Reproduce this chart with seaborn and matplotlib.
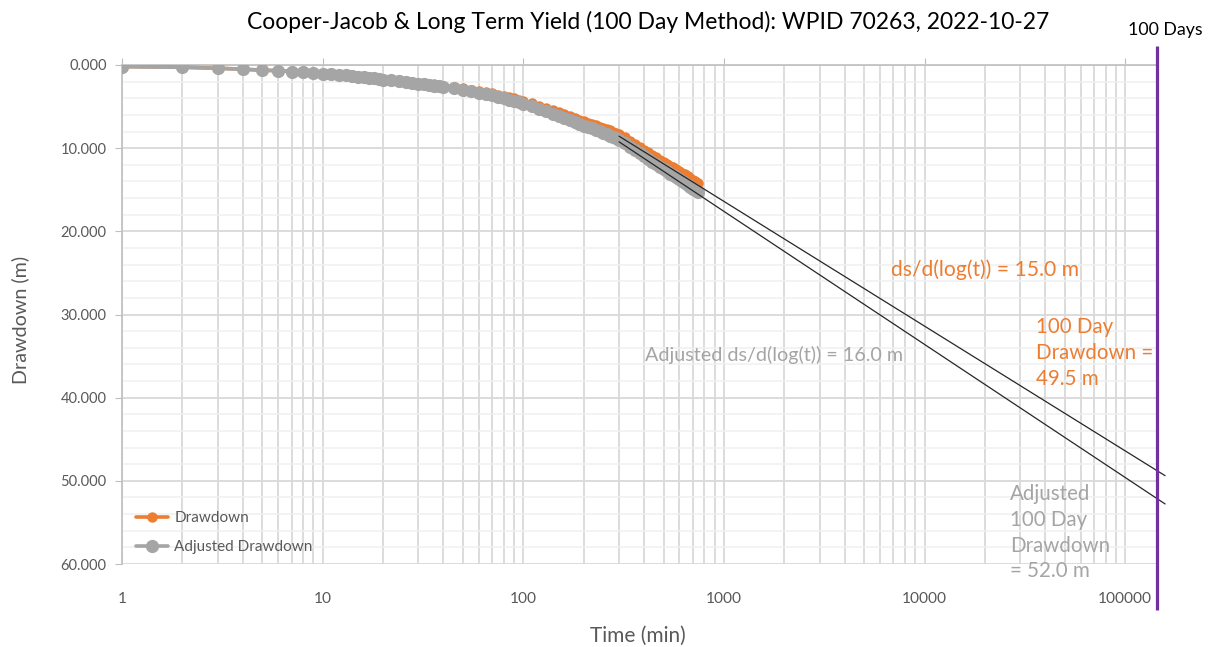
import numpy as np
import pandas as pd
import matplotlib
matplotlib.use("Agg")
import matplotlib.pyplot as plt
import matplotlib.ticker as mticker
import seaborn as sns

# ---------------- data ----------------
time_min = [1, 2, 3, 4, 5, 6, 7, 8, 9, 10, 11, 12, 13, 14, 15, 16, 17, 18, 19, 20,
            22, 24, 26, 28, 30, 32, 34, 36, 38, 40,
            45, 50, 55, 60, 65, 70, 75, 80, 85, 90, 95, 100,
            110, 120, 130, 140, 150, 160, 170, 180, 190, 200, 210, 220, 230, 240,
            250, 260, 270, 280, 290, 300,
            320, 340, 360, 380, 400, 420, 440, 460, 480, 500, 520, 540, 560, 580,
            600, 620, 640, 660, 680, 700, 720, 740]

drawdown = [0.18, 0.26, 0.38, 0.50, 0.61, 0.67, 0.77, 0.87, 0.96, 1.04, 1.10, 1.16, 1.22, 1.28,
            1.35, 1.41, 1.47, 1.54, 1.60, 1.67,
            1.77, 1.86, 1.96, 2.05, 2.13, 2.20, 2.27, 2.34, 2.40, 2.47,
            2.62, 2.77, 2.95, 3.10, 3.25, 3.40, 3.55, 3.71, 3.86, 4.02, 4.18, 4.34,
            4.62, 4.90, 5.18, 5.44, 5.68, 5.92, 6.15, 6.36, 6.57, 6.78, 6.94, 7.10, 7.26, 7.40,
            7.55, 7.70, 7.86, 8.00, 8.14, 8.30,
            8.70, 9.10, 9.50, 9.88, 10.22, 10.52, 10.82, 11.10, 11.38, 11.65, 11.88, 12.10, 12.32,
            12.52, 12.72, 12.93, 13.14, 13.35, 13.56, 13.78, 13.98, 14.18]

adjusted = [0.20, 0.28, 0.40, 0.52, 0.64, 0.70, 0.80, 0.90, 1.00, 1.08, 1.14, 1.20, 1.26, 1.33,
            1.40, 1.47, 1.53, 1.60, 1.67, 1.75,
            1.85, 1.95, 2.06, 2.16, 2.25, 2.33, 2.40, 2.48, 2.55, 2.62,
            2.78, 2.98, 3.15, 3.32, 3.48, 3.65, 3.80, 3.98, 4.15, 4.32, 4.50, 4.68,
            4.98, 5.28, 5.58, 5.85, 6.10, 6.35, 6.60, 6.82, 7.05, 7.28, 7.45, 7.62, 7.80, 7.95,
            8.12, 8.30, 8.48, 8.65, 8.82, 9.00,
            9.40, 9.80, 10.22, 10.62, 11.00, 11.32, 11.65, 11.95, 12.25, 12.55, 12.80, 13.05, 13.28,
            13.50, 13.72, 13.95, 14.18, 14.40, 14.62, 14.85, 15.05, 15.25]

# Cooper-Jacob fits: s = intercept + slope * log10(t)
fit_slope = [15.0, 16.0]
fit_intercept = [-28.6, -30.4]
fit_t = [300, 158000]

hundred_days_min = 144000
purple_span = [-2.3, 65.5]

x_ticks = [1, 10, 100, 1000, 10000, 100000]
x_ticklabels = ["1", "10", "100", "1000", "10000", "100000"]
y_ticks = [0, 10, 20, 30, 40, 50, 60]

title = "Cooper-Jacob & Long Term Yield (100 Day Method): WPID 70263, 2022-10-27"

# ---------------- styling ----------------
ORANGE = "#ED7D31"
GRAY = "#A5A5A5"
TXT = "#595959"
GRID = "#D9D9D9"
PURPLE = "#7030A0"

sns.set_style("white")
plt.rcParams["font.family"] = ["Lato", "DejaVu Sans"]

W, H = 1213, 647
fig = plt.figure(figsize=(W / 100, H / 100), dpi=100)
ax = fig.add_axes([122 / W, 1 - 564 / H, (1157 - 122) / W, (564 - 65) / H])

df1 = pd.DataFrame({"t": time_min, "s": drawdown})
df2 = pd.DataFrame({"t": time_min, "s": adjusted})

sns.lineplot(data=df1, x="t", y="s", ax=ax, color=ORANGE, lw=2.6, marker="o",
             markersize=7.5, markeredgewidth=0, label="Drawdown", zorder=3)
sns.lineplot(data=df2, x="t", y="s", ax=ax, color=GRAY, lw=2.6, marker="o",
             markersize=9.5, markeredgewidth=0, label="Adjusted Drawdown", zorder=4)

for sl, ic in zip(fit_slope, fit_intercept):
    ys = [ic + sl * np.log10(t) for t in fit_t]
    ax.plot(fit_t, ys, color="#262626", lw=0.9, clip_on=False, zorder=5)

ax.plot([hundred_days_min, hundred_days_min], purple_span, color=PURPLE, lw=2.3,
        clip_on=False, zorder=6, solid_capstyle="butt")

ax.set_xscale("log")
ax.set_xlim(1, hundred_days_min)
ax.set_ylim(60, 0)

ax.set_xticks(x_ticks)
ax.set_xticklabels(x_ticklabels)
ax.xaxis.set_minor_locator(mticker.LogLocator(base=10, subs=np.arange(2, 10), numticks=20))
ax.xaxis.set_minor_formatter(mticker.NullFormatter())
ax.set_yticks(y_ticks)
ax.yaxis.set_major_formatter(mticker.FuncFormatter(lambda v, p: f"{v:.3f}"))
ax.yaxis.set_minor_locator(mticker.MultipleLocator(2))

ax.grid(True, which="major", color=GRID, lw=1.3)
ax.grid(True, which="minor", axis="x", color=GRID, lw=1.3)
ax.grid(True, which="minor", axis="y", color="#F0F0F0", lw=1.1)
ax.set_axisbelow(True)

for side in ["right", "bottom"]:
    ax.spines[side].set_visible(False)
for side in ["top", "left"]:
    ax.spines[side].set_color("#BFBFBF")
    ax.spines[side].set_linewidth(1.2)

ax.tick_params(axis="x", which="major", bottom=False, top=True, labelbottom=True,
               labeltop=False, direction="out", length=5, color="#BFBFBF",
               labelsize=11.2, labelcolor=TXT, pad=15)
ax.tick_params(axis="x", which="minor", bottom=False, top=False)
ax.tick_params(axis="y", which="major", left=True, direction="out", length=5,
               color="#BFBFBF", labelsize=10.5, labelcolor=TXT, pad=6)
ax.tick_params(axis="y", which="minor", left=False)

ax.set_xlabel("")
ax.set_ylabel("")

fig.text(648 / W, 1 - 22 / H, title, ha="center", va="center", fontsize=16.5, color="black")
fig.text(638 / W, 1 - 636 / H, "Time (min)", ha="center", va="center", fontsize=15, color=TXT)
fig.text(20 / W, 1 - 320 / H, "Drawdown (m)", ha="center", va="center", fontsize=14.2,
         color=TXT, rotation=90)
fig.text(1165 / W, 1 - 30 / H, "100 Days", ha="center", va="center", fontsize=12.8, color="black")

fig.text(891 / W, 1 - 270 / H, "ds/d(log(t)) = 15.0 m", ha="left", va="center",
         fontsize=15.2, color=ORANGE)
fig.text(1036 / W, 1 - 317 / H, "100 Day\nDrawdown =\n49.5 m", ha="left", va="top",
         fontsize=14.8, color=ORANGE, linespacing=1.36)
fig.text(645 / W, 1 - 355 / H, "Adjusted ds/d(log(t)) = 16.0 m", ha="left", va="center",
         fontsize=14.2, color=GRAY)
fig.text(1010 / W, 1 - 484 / H, "Adjusted\n100 Day\nDrawdown\n= 52.0 m", ha="left", va="top",
         fontsize=14.8, color=GRAY, linespacing=1.36)

leg = ax.legend(loc="lower left", bbox_to_anchor=((130 - 122) / (1157 - 122), (564 - 560) / (564 - 65)),
                frameon=False, fontsize=11, labelspacing=0.95, handlelength=2.1,
                handletextpad=0.4, borderaxespad=0)
for t in leg.get_texts():
    t.set_color(TXT)

fig.savefig("out.png", dpi=100)
